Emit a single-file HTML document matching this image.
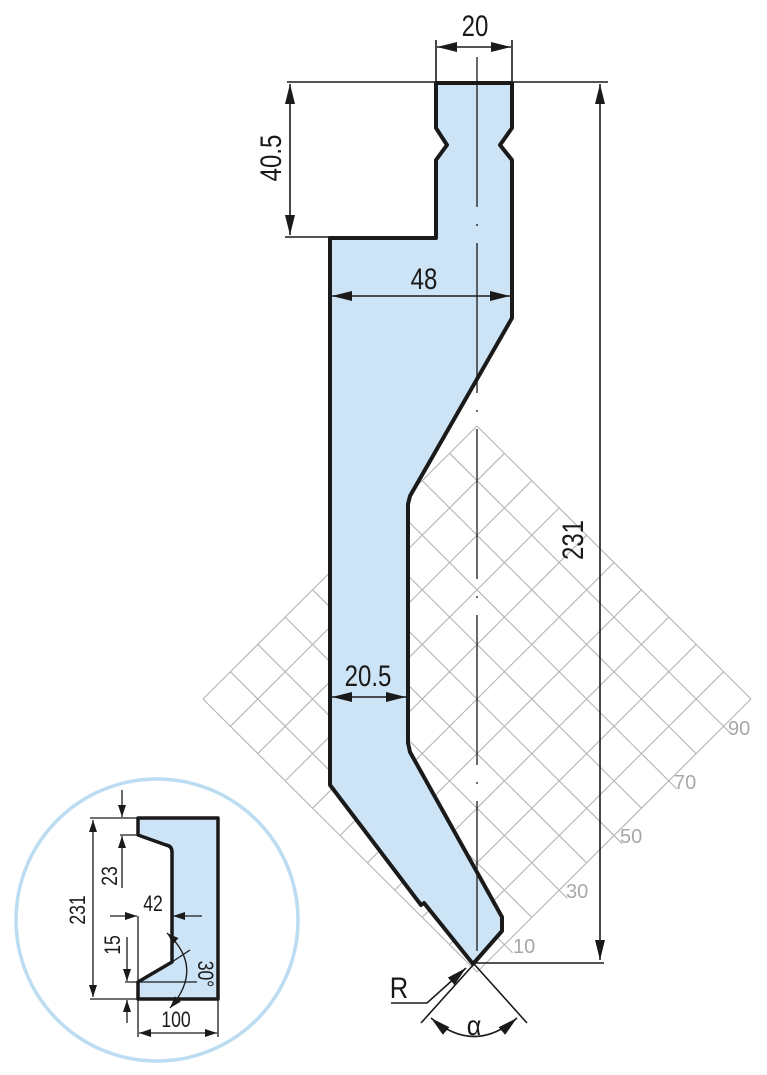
<!DOCTYPE html>
<html><head><meta charset="utf-8"><style>
html,body{margin:0;padding:0;background:#fff;}
svg{display:block;}
text{font-family:"Liberation Sans",sans-serif;}
</style></head><body>
<svg width="767" height="1075" viewBox="0 0 767 1075" xmlns="http://www.w3.org/2000/svg">
<defs>
<marker id="a" viewBox="0 0 12 8" refX="12" refY="4" markerWidth="12" markerHeight="8" markerUnits="userSpaceOnUse" orient="auto-start-reverse">
<path d="M0,0 L12,4 L0,8 Z" fill="#1a1a1a"/></marker>
<marker id="b" viewBox="0 0 20 10" refX="20" refY="5" markerWidth="20" markerHeight="10" markerUnits="userSpaceOnUse" orient="auto-start-reverse">
<path d="M0,0 L20,5 L0,10 Z" fill="#1a1a1a"/></marker>
</defs>

<!-- grid -->
<g stroke="#b4b4b4" stroke-width="1.1" fill="none" id="grid"></g>
<g fill="#a8a8a8" font-size="20">
<text x="513" y="953">10</text>
<text x="566" y="898">30</text>
<text x="620" y="843">50</text>
<text x="674" y="789">70</text>
<text x="728" y="735">90</text>
</g>

<!-- tool -->
<path d="M436,83 L512,83 L512,128 L500,145 L512,160 L512,318 L410,496 L408,504 L408,743 L410,752 L502,917 L502,931 L473,964 L424,903 L421,905 L330,785 L330,238 L436,238 L436,160 L447,145 L436,128 Z" fill="#cde4f6" stroke="#1a1a1a" stroke-width="4" stroke-linejoin="round"/>

<!-- centerline -->
<line x1="477" y1="57" x2="477" y2="962" stroke="#1a1a1a" stroke-width="1.3" stroke-dasharray="150 17 2 17"/>

<!-- dimension lines -->
<g stroke="#1a1a1a" stroke-width="1.6" fill="none">
<line x1="287" y1="82" x2="608" y2="82"/>
<line x1="436" y1="40" x2="436" y2="82"/>
<line x1="512" y1="40" x2="512" y2="82"/>
<line x1="437" y1="47" x2="511" y2="47" marker-start="url(#b)" marker-end="url(#b)"/>
<line x1="285" y1="237" x2="330" y2="237"/>
<line x1="290" y1="84" x2="290" y2="235" marker-start="url(#b)" marker-end="url(#b)"/>
<line x1="332" y1="296" x2="510" y2="296" marker-start="url(#b)" marker-end="url(#b)"/>
<line x1="600" y1="84" x2="600" y2="960" marker-start="url(#b)" marker-end="url(#b)"/>
<line x1="474" y1="963" x2="604" y2="963"/>
<line x1="332" y1="697" x2="406" y2="697" marker-start="url(#b)" marker-end="url(#b)"/>
<polyline points="391,1003 427,1003 466,968" marker-end="url(#b)"/>
<line x1="421" y1="1023" x2="474" y2="964"/>
<line x1="527" y1="1023" x2="474" y2="964"/>
<path d="M431,1018 Q474,1055 517,1018" marker-start="url(#b)" marker-end="url(#b)"/>
</g>
<g fill="#1a1a1a" font-size="30" text-anchor="middle">
<text transform="translate(475,36) scale(0.8,1)">20</text>
<text transform="translate(424,289) scale(0.8,1)">48</text>
<text transform="translate(368,686) scale(0.8,1)">20.5</text>
<text transform="translate(281,158) rotate(-90) scale(0.8,1)">40.5</text>
<text transform="translate(583,540) rotate(-90) scale(0.8,1)">231</text>
<text transform="translate(399,998) scale(0.85,1)">R</text>
<text transform="translate(474,1035) scale(0.9,1)" font-size="28">α</text>
</g>

<!-- inset -->
<circle cx="157" cy="920" r="141" fill="none" stroke="#bcdcf2" stroke-width="3.5"/>
<path d="M138,818 L218,818 L218,999 L138,999 L138,982 L172,962 L172,852 Q172,846 166,845 L138,835 Z" fill="#cde4f6" stroke="#1a1a1a" stroke-width="3.5" stroke-linejoin="round"/>
<g stroke="#1a1a1a" stroke-width="1.3" fill="none">
<line x1="90" y1="818" x2="138" y2="818"/>
<line x1="90" y1="999" x2="138" y2="999"/>
<line x1="93" y1="820" x2="93" y2="997" marker-start="url(#a)" marker-end="url(#a)"/>
<line x1="120" y1="835" x2="138" y2="835"/>
<line x1="122" y1="790" x2="122" y2="817" marker-end="url(#a)"/>
<line x1="122" y1="888" x2="122" y2="836" marker-end="url(#a)"/>
<line x1="125" y1="982" x2="197" y2="982"/>
<line x1="127" y1="937" x2="127" y2="981" marker-end="url(#a)"/>
<line x1="127" y1="1023" x2="127" y2="1000" marker-end="url(#a)"/>
<line x1="138" y1="916" x2="138" y2="982"/>
<line x1="110" y1="916" x2="137" y2="916" marker-end="url(#a)"/>
<line x1="202" y1="916" x2="173" y2="916" marker-end="url(#a)"/>
<path d="M167,933 Q205,968 170,1008" marker-start="url(#a)" marker-end="url(#a)"/>
<line x1="190" y1="950" x2="160" y2="970"/>
<line x1="138" y1="999" x2="138" y2="1037"/>
<line x1="218" y1="999" x2="218" y2="1037"/>
<line x1="139" y1="1033" x2="217" y2="1033" marker-start="url(#a)" marker-end="url(#a)"/>
</g>
<g fill="#1a1a1a" font-size="22" text-anchor="middle">
<text transform="translate(85,910) rotate(-90) scale(0.8,1)">231</text>
<text transform="translate(117,876) rotate(-90) scale(0.8,1)">23</text>
<text transform="translate(120,945) rotate(-90) scale(0.8,1)">15</text>
<text transform="translate(153,911) scale(0.8,1)">42</text>
<text transform="translate(198,974) rotate(90) scale(0.8,1)">30°</text>
<text transform="translate(176,1027) scale(0.8,1)">100</text>
</g>

<script>
(function(){
var g=document.getElementById('grid');
var B=[477,972],R=[751,699],L=[203,699];
var ux=(R[0]-B[0])/10,uy=(R[1]-B[1])/10;
var vx=(L[0]-B[0])/10,vy=(L[1]-B[1])/10;
function ln(x1,y1,x2,y2){var l=document.createElementNS('http://www.w3.org/2000/svg','line');
l.setAttribute('x1',x1);l.setAttribute('y1',y1);l.setAttribute('x2',x2);l.setAttribute('y2',y2);g.appendChild(l);}
for(var k=0;k<=10;k++){
 var sx=B[0]+ux*k, sy=B[1]+uy*k;
 var e1=(k%2==1)?0.3:0;
 ln(sx-vx*e1,sy-vy*e1,sx+vx*10,sy+vy*10);
 var tx=B[0]+vx*k, ty=B[1]+vy*k;
 ln(tx,ty,tx+ux*10,ty+uy*10);
}
})();
</script>
</svg>
</body></html>
